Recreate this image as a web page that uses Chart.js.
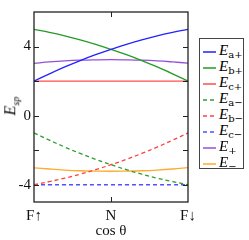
<!DOCTYPE html>
<html>
<head>
<meta charset="utf-8">
<script src="https://cdn.jsdelivr.net/npm/chart.js@4"></script>
<style>
  body { margin: 0; background: #fff; }
  #wrap { position: relative; width: 249px; height: 240px; font-family: "Liberation Serif", "DejaVu Serif", serif; }
  #ylabel { position: absolute; left: 2px; top: 96px; transform: rotate(-90deg); font-size: 16px; font-style: italic; }
  #ylabel sub { font-size: 10px; }
  #legend { position: absolute; left: 199px; top: 38px; width: 45px; height: 131px; border: 1px solid #444; box-sizing: border-box; background: #fff; }
  .row { position: absolute; left: 3px; height: 16px; line-height: 16px; font-size: 15px; white-space: nowrap; }
  .row svg { vertical-align: middle; margin-right: 3px; }
  .row i { font-style: italic; }
  .row sub { font-size: 10px; font-style: normal; vertical-align: -3px; font-family: "DejaVu Serif", serif; }
</style>
</head>
<body>
<div id="wrap">
  <canvas id="energyChart" width="249" height="240"></canvas>
  <div id="ylabel"><i>E</i><sub><i>sp</i></sub></div>
  <div id="legend"></div>
</div>
<script>
const positions = [0, 0.1, 0.2, 0.3, 0.4, 0.5, 0.6, 0.7, 0.8, 0.9, 1];
const xTickLabels = ['F\u2191', 'N', 'F\u2193'];
const yTickLabels = [4, 0, -4];

const eaPlus  = [2.00, 2.42, 2.82, 3.19, 3.53, 3.84, 4.13, 4.39, 4.62, 4.82, 5.00];
const ebPlus  = [5.00, 4.82, 4.62, 4.39, 4.13, 3.84, 3.53, 3.19, 2.82, 2.42, 2.00];
const ecPlus  = [2, 2, 2, 2, 2, 2, 2, 2, 2, 2, 2];
const eaMinus = [-1.00, -1.42, -1.82, -2.19, -2.53, -2.84, -3.13, -3.39, -3.62, -3.82, -4.00];
const ebMinus = [-4.00, -3.82, -3.62, -3.39, -3.13, -2.84, -2.53, -2.19, -1.82, -1.42, -1.00];
const ecMinus = [-4, -4, -4, -4, -4, -4, -4, -4, -4, -4, -4];
const ePlus   = [3.03, 3.11, 3.17, 3.21, 3.23, 3.24, 3.23, 3.21, 3.17, 3.11, 3.04];
const eMinus  = [-3.02, -3.09, -3.15, -3.19, -3.21, -3.22, -3.21, -3.19, -3.15, -3.09, -3.01];

const series = [
    { sub: 'a+', values: eaPlus,  color: '#2222ff', dash: [] },
    { sub: 'b+', values: ebPlus,  color: '#239b23', dash: [] },
    { sub: 'c+', values: ecPlus,  color: '#ff4d4d', dash: [] },
    { sub: 'a\u2212', values: eaMinus, color: '#2e9e2e', dash: [4, 3] },
    { sub: 'b\u2212', values: ebMinus, color: '#ff4040', dash: [4, 3] },
    { sub: 'c\u2212', values: ecMinus, color: '#5050ff', dash: [4, 3] },
    { sub: '+', values: ePlus,   color: '#9450dc', dash: [] },
    { sub: '\u2212', values: eMinus,  color: '#ffab2e', dash: [] }
];

// inward ticks and frame box
const framePlugin = {
    id: 'frame',
    afterDraw(chart) {
        const c = chart.ctx, a = chart.chartArea;
        const x = chart.scales.x, y = chart.scales.y;
        c.save();
        c.strokeStyle = '#222';
        c.lineWidth = 1.3;
        c.strokeRect(a.left, a.top, a.right - a.left, a.bottom - a.top);
        c.lineWidth = 1;
        c.beginPath();
        [-4, -2, 0, 2, 4].forEach(v => {
            const py = Math.round(y.getPixelForValue(v)) + 0.5;
            c.moveTo(a.left, py); c.lineTo(a.left + 5, py);
            c.moveTo(a.right, py); c.lineTo(a.right - 5, py);
        });
        const px = Math.round(x.getPixelForValue(0.5)) + 0.5;
        c.moveTo(px, a.top); c.lineTo(px, a.top + 5);
        c.moveTo(px, a.bottom); c.lineTo(px, a.bottom - 5);
        c.stroke();
        c.restore();
    }
};

const ctx = document.getElementById('energyChart').getContext('2d');
const energyChart = new Chart(ctx, {
    type: 'line',
    data: {
        datasets: series.map(s => ({
            label: 'E' + s.sub,
            data: positions.map((p, i) => ({ x: p, y: s.values[i] })),
            borderColor: s.color,
            borderDash: s.dash,
            borderWidth: 1.3,
            pointRadius: 0,
            tension: 0.4,
            fill: false
        }))
    },
    options: {
        responsive: false,
        animation: false,
        layout: { padding: { top: 5, right: 61, left: 0, bottom: 0 } },
        scales: {
            x: {
                type: 'linear',
                min: 0,
                max: 1,
                afterBuildTicks: s => { s.ticks = [0, 0.5, 1].map(v => ({ value: v })); },
                afterFit: s => { s.height = 38; },
                ticks: {
                    callback: (v, i) => xTickLabels[i],
                    color: '#111',
                    font: { family: 'Liberation Serif', size: 15 },
                    padding: 5,
                    maxRotation: 0
                },
                grid: { display: false, drawTicks: false },
                border: { display: false },
                title: {
                    display: true,
                    text: 'cos \u03b8',
                    color: '#111',
                    font: { family: 'Liberation Serif', size: 15 },
                    padding: { top: 0, bottom: 0 }
                }
            },
            y: {
                min: -5,
                max: 6,
                afterBuildTicks: s => { s.ticks = yTickLabels.map(v => ({ value: v })); },
                afterFit: s => { s.width = 34; },
                ticks: {
                    color: '#111',
                    font: { family: 'Liberation Serif', size: 15 },
                    padding: 3
                },
                grid: { display: false, drawTicks: false },
                border: { display: false }
            }
        },
        plugins: {
            legend: { display: false },
            tooltip: { enabled: false }
        }
    },
    plugins: [framePlugin]
});

// html legend with subscripts
const legend = document.getElementById('legend');
series.forEach((s, i) => {
    const row = document.createElement('div');
    row.className = 'row';
    row.style.top = (3 + i * 16) + 'px';
    const dash = s.dash.length ? 'stroke-dasharray="4 3"' : '';
    row.innerHTML = '<svg width="13" height="4"><line x1="0" y1="2" x2="13" y2="2" stroke="' + s.color +
        '" stroke-width="1.5" ' + dash + '/></svg><i>E</i><sub>' + s.sub + '</sub>';
    legend.appendChild(row);
});
</script>
</body>
</html>
